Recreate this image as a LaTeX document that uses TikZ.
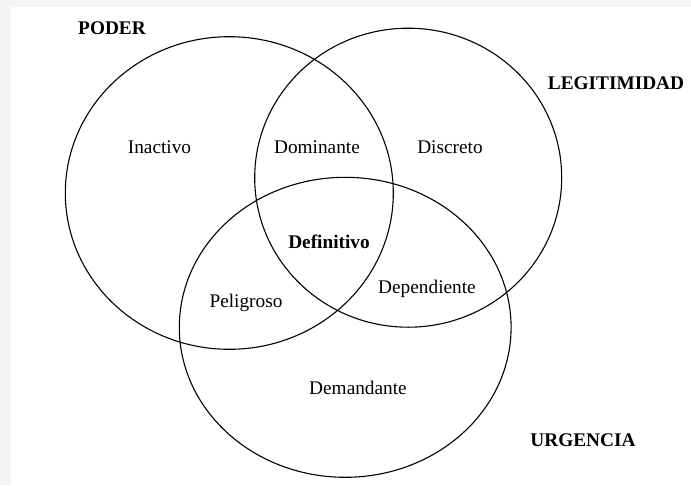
\documentclass[tikz,border=0pt]{standalone}
\usepackage{fontspec}
\setmainfont{Liberation Serif}
\definecolor{bandgray}{RGB}{243,244,245}
\begin{document}
\begin{tikzpicture}[x=1pt,y=-1pt,line width=1.1pt,
    region/.style={font=\fontsize{19.3}{22}\selectfont},
    title/.style={font=\fontsize{19.3}{22}\selectfont\bfseries}]
                    \useasboundingbox (0,0) rectangle (691,485);
                    \fill [bandgray] (0,0) rectangle (691,7);
                    \fill [bandgray] (0,7) rectangle (11,485);

                    \draw (229.3,193) ellipse [x radius=164,y radius=156.3];
                    \draw (408.2,177.7) ellipse [x radius=153.5,y radius=149.5];
                    \draw (345.2,327.3) ellipse [x radius=165.9,y radius=150];

                    \node (poder) [title] at (112,28) {PODER};
                    \node (legit) [title] at (616,83) {LEGITIMIDAD};
                    \node (urgencia) [title] at (583,440) {URGENCIA};

                    \node (inactivo) [region] at (159.5,147) {Inactivo};
                    \node (dominante) [region] at (317,147) {Dominante};
                    \node (discreto) [region] at (450,147) {Discreto};
                    \node (definitivo) [title] at (329,242) {Definitivo};
                    \node (dependiente) [region] at (427,289) {Dependiente};
                    \node (peligroso) [region] at (246,303) {Peligroso};
                    \node (demandante) [region] at (358,388) {Demandante};
\end{tikzpicture}
\end{document}
